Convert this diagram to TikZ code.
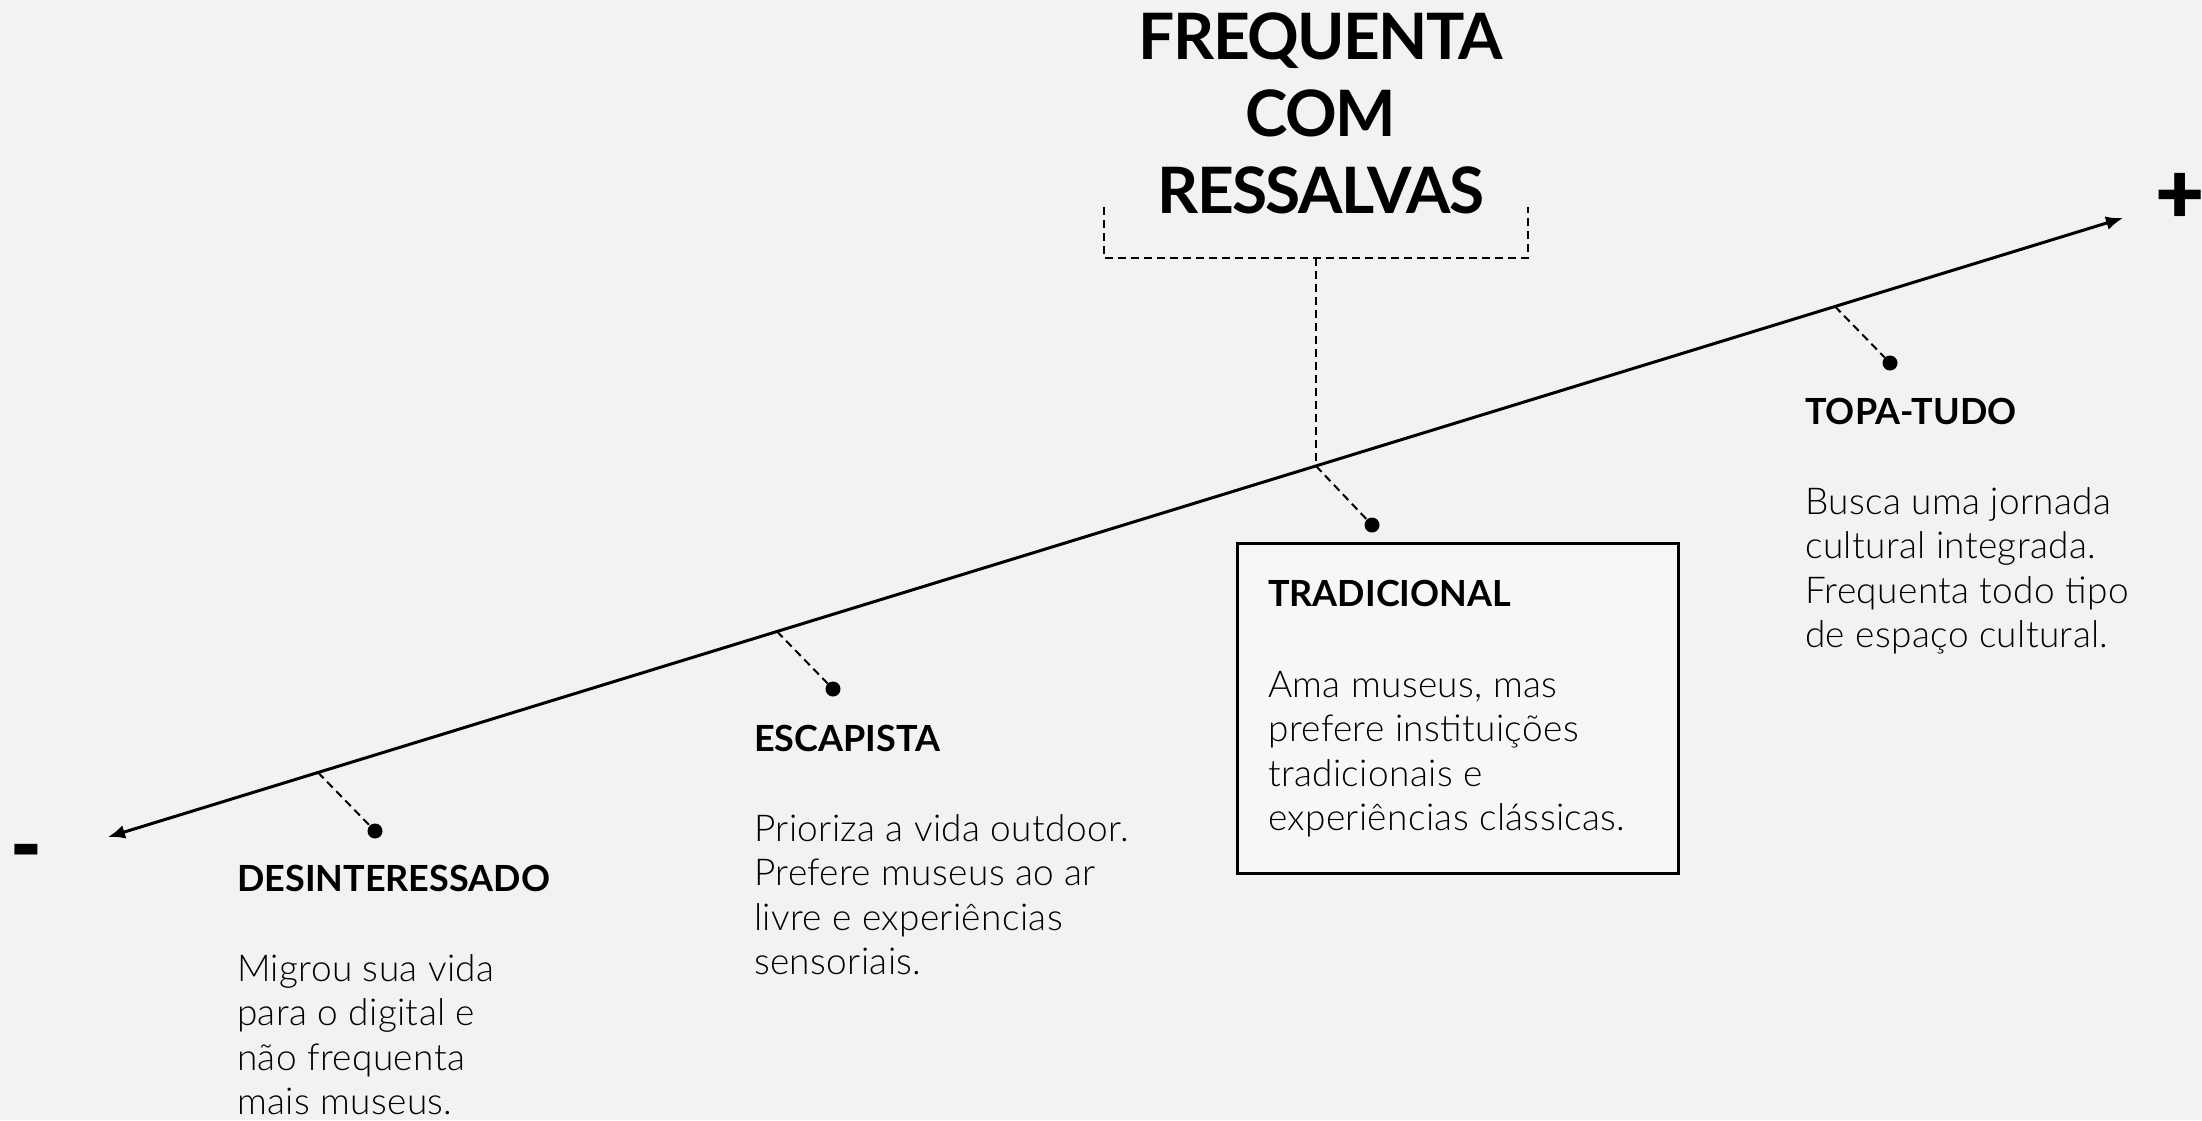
\documentclass[tikz,border=0pt]{standalone}
\usepackage{fontspec}
\setmainfont{Lato Light}[BoldFont={Lato Bold}]
\newfontfamily\signfont{Lato Black}
\usetikzlibrary{arrows.meta}
\definecolor{bg}{HTML}{F2F2F2}
\definecolor{boxfill}{HTML}{F7F7F7}
\begin{document}
\begin{tikzpicture}[x=1pt,y=-1pt,
  titlest/.style={inner sep=0, anchor=base, font=\fontsize{64}{77}\selectfont\bfseries\addfontfeature{LetterSpace=-2.5}},
  headst/.style={inner sep=0, anchor=base west, font=\fontsize{36}{40}\selectfont\bfseries},
  bodyst/.style={inner sep=0, anchor=base west, font=\fontsize{37}{44.5}\selectfont\addfontfeature{LetterSpace=1}},
  dotst/.style={circle, fill=black, inner sep=0, minimum size=15pt},
  leader/.style={dash pattern=on 8pt off 5pt, line width=2pt},
  axisst/.style={line width=3pt, {Latex[length=17pt,width=14pt]}-{Latex[length=17pt,width=14pt]}},
  signst/.style={inner sep=0, font=\fontsize{85}{90}\signfont},
  boxst/.style={draw, line width=2.5pt, fill=boxfill, inner sep=0, anchor=north west}]
\useasboundingbox (0,0) rectangle (2202,1120);
\fill[bg] (0,0) rectangle (2202,1120);

% title and bracket
\node[titlest] (ttl) at (1321,59) {\begin{tabular}[t]{@{}c@{}}FREQUENTA\\COM\\RESSALVAS\end{tabular}};
\coordinate (bracketL) at (1104,207);
\coordinate (bracketR) at (1528,207);
\coordinate (bracketMid) at (1316,258);

% axis
\coordinate (negEnd) at (108,837);
\coordinate (posEnd) at (2123,218);
\draw[axisst] (negEnd) -- (posEnd);
\node[signst] (minus) at (26,860) {-};
\node[signst] (plus) at (2180,198) {+};

% tick points on the axis
\coordinate (t1) at (318,772.5);
\coordinate (t2) at (777,631.5);
\coordinate (t3) at (1316,466);
\coordinate (t4) at (1835,306.5);

% box
\node[boxst, minimum width=441pt, minimum height=330pt] (tradbox) at (1236,542) {};

% dots
\node[dotst] (d1) at (375,831) {};
\node[dotst] (d2) at (833,689) {};
\node[dotst] (d3) at (1372,525) {};
\node[dotst] (d4) at (1890,363) {};

\draw[leader] (t1) -- (d1);
\draw[leader] (t2) -- (d2);
\draw[leader] (t3) -- (d3);
\draw[leader] (t4) -- (d4);
\draw[leader] (bracketL) |- (bracketMid) -| (bracketR);
\draw[leader] (bracketMid) -- (t3);

% texts
\node[headst] (h1) at (237,891) {DESINTERESSADO};
\node[bodyst] (b1) at (237,981) {\begin{tabular}[t]{@{}l@{}}Migrou sua vida\\para o digital e\\não frequenta\\mais museus.\end{tabular}};

\node[headst] (h2) at (754,751) {ESCAPISTA};
\node[bodyst] (b2) at (754,841) {\begin{tabular}[t]{@{}l@{}}Prioriza a vida outdoor.\\Prefere museus ao ar\\livre e experiências\\sensoriais.\end{tabular}};

\node[headst] (h3) at (1268,606) {TRADICIONAL};
\node[bodyst] (b3) at (1268,697) {\begin{tabular}[t]{@{}l@{}}Ama museus, mas\\prefere instituições\\tradicionais e\\experiências clássicas.\end{tabular}};

\node[headst] (h4) at (1805,424) {TOPA-TUDO};
\node[bodyst] (b4) at (1805,514) {\begin{tabular}[t]{@{}l@{}}Busca uma jornada\\cultural integrada.\\Frequenta todo tipo\\de espaço cultural.\end{tabular}};
\end{tikzpicture}
\end{document}
